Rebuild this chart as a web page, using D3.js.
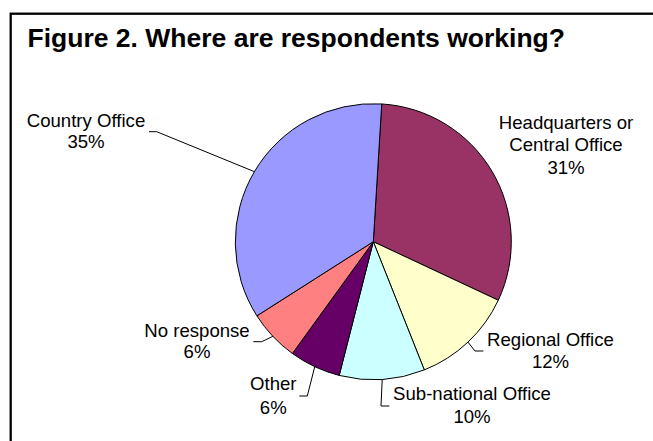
<!DOCTYPE html>
<html>
<head>
<meta charset="utf-8">
<script src="https://cdn.jsdelivr.net/npm/d3@7"></script>
<style>
  html, body { margin: 0; padding: 0; background: #fff; }
  svg { display: block; }
  text { font-family: "Liberation Sans", Arial, Helvetica, sans-serif; fill: #000; }
</style>
</head>
<body>
<svg id="chart" width="653" height="441"></svg>
<script>
// Workplace of respondents (percent of all responses)
const categories = [
  "Headquarters or\nCentral Office",
  "Regional Office",
  "Sub-national Office",
  "Other",
  "No response",
  "Country Office"
];
const shares = [31, 12, 10, 6, 6, 35];
const sliceColors = ["#993366", "#FFFFCC", "#CCFFFF", "#660066", "#FF8080", "#9999FF"];
const title = "Figure 2. Where are respondents working?";

// Label placement: centre x, first baseline, line height, leader elbow and end
const labelLayout = [
  { x: 566, y: 128.5, lh: 22.5, leader: null },
  { x: 550.5, y: 345.7, lh: 22.6, leader: [[475, 351], [483.3, 351]] },
  { x: 472, y: 400, lh: 22.7, leader: [[381, 406], [389.3, 406]] },
  { x: 273.3, y: 390, lh: 24, leader: [[307.3, 396], [299.3, 396]] },
  { x: 197, y: 336.7, lh: 21.6, leader: [[261.7, 341.7], [253.3, 341.7]] },
  { x: 86, y: 126.7, lh: 21.6, leader: [[156.7, 131.7], [149, 131.7]] }
];

const svg = d3.select("#chart");

// Chart frame
svg.append("rect")
  .attr("x", 10.7).attr("y", 13.7)
  .attr("width", 700).attr("height", 500)
  .attr("fill", "#fff")
  .attr("stroke", "#000")
  .attr("stroke-width", 2.3);

svg.append("text")
  .attr("x", 27.5).attr("y", 47)
  .attr("font-size", 26.5)
  .attr("font-weight", "bold")
  .text(title);

const cx = 373.3, cy = 241.7, radius = 138;
const offset = 3.5 * Math.PI / 180;

const pie = d3.pie()
  .sort(null)
  .value(d => d)
  .startAngle(offset)
  .endAngle(offset + 2 * Math.PI);

const arcs = pie(shares);
const arc = d3.arc().innerRadius(0).outerRadius(radius);

const g = svg.append("g").attr("transform", `translate(${cx},${cy})`);

g.selectAll("path.slice")
  .data(arcs)
  .join("path")
  .attr("class", "slice")
  .attr("d", arc)
  .attr("fill", (d, i) => sliceColors[i])
  .attr("stroke", "#000")
  .attr("stroke-width", 1)
  .attr("stroke-linejoin", "round");

// Leader lines from each slice's outer mid-point to its label
const edgePoint = d => {
  const a = (d.startAngle + d.endAngle) / 2;
  return [cx + radius * Math.sin(a), cy - radius * Math.cos(a)];
};

arcs.forEach((d, i) => {
  const lay = labelLayout[i];
  if (lay.leader) {
    const pts = [edgePoint(d), ...lay.leader];
    svg.append("path")
      .attr("d", d3.line()(pts))
      .attr("fill", "none")
      .attr("stroke", "#000")
      .attr("stroke-width", 1);
  }
  const lines = categories[i].split("\n").concat([shares[i] + "%"]);
  const t = svg.append("text")
    .attr("text-anchor", "middle")
    .attr("font-size", 18.6);
  lines.forEach((ln, k) => {
    t.append("tspan")
      .attr("x", lay.x)
      .attr("y", lay.y + k * lay.lh)
      .text(ln);
  });
});
</script>
</body>
</html>
